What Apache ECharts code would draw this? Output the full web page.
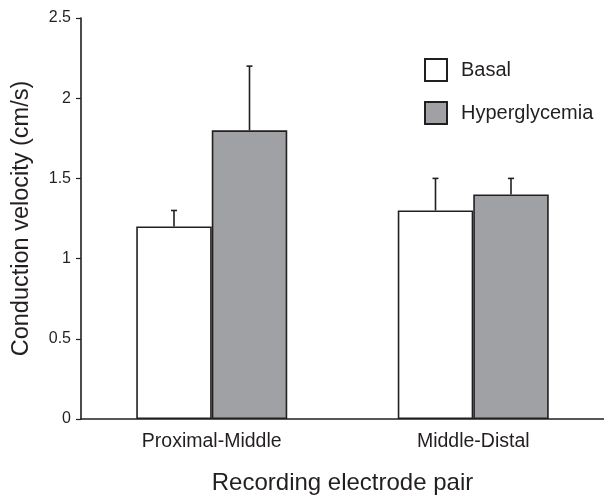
<!DOCTYPE html>
<html>
<head>
<meta charset="utf-8">
<script src="https://cdn.jsdelivr.net/npm/echarts@6/dist/echarts.min.js"></script>
<style>
  html, body { margin: 0; padding: 0; background: #fff; }
  #chart { width: 604px; height: 500px; }
</style>
</head>
<body>
<div id="chart"></div>
<script>
  // data
  var categories = ['Proximal-Middle', 'Middle-Distal'];
  var basal = [1.2, 1.3];
  var basalErr = [0.1, 0.2];
  var hyper = [1.8, 1.4];
  var hyperErr = [0.4, 0.1];
  var yTicks = [0, 0.5, 1, 1.5, 2, 2.5];

  var ink = '#231f20';
  var font = 'Liberation Sans, Arial, sans-serif';
  var barW = 75.5;

  function errData(vals, errs) {
    return vals.map(function (v, i) { return [i, v, v + errs[i]]; });
  }

  // upper error whisker with a small cap
  function errRender(side) {
    return function (params, api) {
      var lo = api.coord([api.value(0), api.value(1)]);
      var hi = api.coord([api.value(0), api.value(2)]);
      var x = lo[0] + side * barW / 2;
      return {
        type: 'group',
        children: [
          { type: 'line', shape: { x1: x, y1: lo[1], x2: x, y2: hi[1] },
            style: { stroke: ink, lineWidth: 1.6 } },
          { type: 'line', shape: { x1: x - 3, y1: hi[1], x2: x + 3, y2: hi[1] },
            style: { stroke: ink, lineWidth: 1.6 } }
        ]
      };
    };
  }

  var chart = echarts.init(document.getElementById('chart'));
  chart.setOption({
    animation: false,
    grid: { left: 81, right: -5, top: 18, bottom: 73, containLabel: false },
    legend: {
      orient: 'vertical',
      left: 424,
      top: 58,
      padding: 0,
      itemWidth: 22,
      itemHeight: 22,
      itemGap: 19,
      icon: 'rect',
      data: ['Basal', 'Hyperglycemia'],
      textStyle: { color: ink, fontSize: 20, fontFamily: font, padding: [0, 0, 0, 9] }
    },
    xAxis: {
      type: 'category',
      data: categories,
      name: 'Recording electrode pair',
      nameLocation: 'middle',
      nameGap: 52,
      nameTextStyle: { color: ink, fontSize: 24, fontFamily: font },
      axisLine: { lineStyle: { color: ink, width: 1.6 } },
      axisTick: { show: false },
      axisLabel: { color: ink, fontSize: 19.5, fontFamily: font, margin: 13 }
    },
    yAxis: {
      type: 'value',
      min: yTicks[0],
      max: yTicks[yTicks.length - 1],
      interval: 0.5,
      name: 'Conduction velocity (cm/s)',
      nameLocation: 'middle',
      nameGap: 47,
      nameTextStyle: { color: ink, fontSize: 23.5, fontFamily: font },
      splitLine: { show: false },
      axisLine: { show: true, lineStyle: { color: ink, width: 1.6 } },
      axisTick: { show: true, length: 5, lineStyle: { color: ink, width: 1.2 } },
      axisLabel: { color: ink, fontSize: 16, fontFamily: font, margin: 10 }
    },
    series: [
      {
        name: 'Basal',
        type: 'bar',
        data: basal,
        barWidth: barW,
        barGap: '0%',
        itemStyle: { color: '#ffffff', borderColor: ink, borderWidth: 1.6 }
      },
      {
        name: 'Hyperglycemia',
        type: 'bar',
        data: hyper,
        barWidth: barW,
        barGap: '0%',
        itemStyle: { color: '#a0a1a5', borderColor: ink, borderWidth: 1.6 }
      },
      {
        type: 'custom',
        renderItem: errRender(-1),
        data: errData(basal, basalErr),
        z: 1
      },
      {
        type: 'custom',
        renderItem: errRender(1),
        data: errData(hyper, hyperErr),
        z: 1
      }
    ]
  });
</script>
</body>
</html>
